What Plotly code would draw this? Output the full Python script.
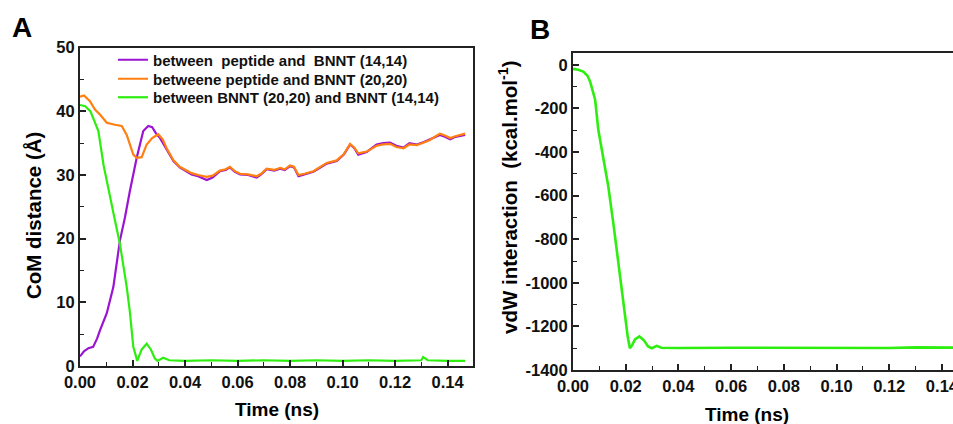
import plotly.graph_objects as go

# ---------------- data ----------------
# Panel A: CoM distance (Å) vs time (ns)
t_purple = [0, 0.0015, 0.0032, 0.005, 0.0065, 0.0076, 0.0102, 0.0127, 0.0152, 0.0171, 0.019, 0.0216,
            0.0241, 0.026, 0.0275, 0.029, 0.0305, 0.033, 0.0356, 0.038, 0.0406, 0.0425, 0.045, 0.0465,
            0.0483, 0.0505, 0.0533, 0.0555, 0.0571, 0.059, 0.061, 0.064, 0.0673, 0.069, 0.0711, 0.074,
            0.0762, 0.078, 0.08, 0.0815, 0.0832, 0.0855, 0.0889, 0.092, 0.094, 0.0978, 0.1005, 0.1029,
            0.1045, 0.106, 0.1092, 0.111, 0.113, 0.1155, 0.1181, 0.1205, 0.1232, 0.1255, 0.1283, 0.131,
            0.1333, 0.1355, 0.1371, 0.139, 0.141, 0.143, 0.1467]
v_purple = [1.5, 2.3, 2.8, 3.0, 4.3, 5.6, 8.3, 12.4, 19.7, 23.3, 27.5, 32.7,
            36.9, 37.7, 37.5, 36.5, 35.8, 34.0, 32.2, 31.2, 30.6, 30.1, 29.8, 29.5,
            29.2, 29.6, 30.6, 30.8, 31.2, 30.5, 30.1, 30.0, 29.6, 30.1, 30.9, 30.7,
            31.0, 30.8, 31.4, 31.2, 29.8, 30.1, 30.5, 31.3, 31.8, 32.2, 33.2, 34.8,
            34.2, 33.2, 33.6, 34.2, 34.8, 35.0, 35.1, 34.6, 34.3, 35.0, 34.8, 35.2,
            35.6, 36.0, 36.3, 36.0, 35.6, 36.0, 36.3]

t_orange = [0, 0.0015, 0.0038, 0.0057, 0.0076, 0.0102, 0.0133, 0.0159, 0.0178, 0.019, 0.0203, 0.0216,
            0.0235, 0.0254, 0.0275, 0.0298, 0.0315, 0.033, 0.0356, 0.038, 0.0406, 0.0425, 0.045, 0.0465,
            0.0483, 0.0505, 0.0533, 0.0555, 0.0571, 0.059, 0.061, 0.064, 0.0673, 0.069, 0.0711, 0.074,
            0.0762, 0.078, 0.08, 0.0815, 0.0832, 0.0855, 0.0889, 0.092, 0.094, 0.0978, 0.1005, 0.1029,
            0.1045, 0.106, 0.1092, 0.111, 0.113, 0.1155, 0.1181, 0.1205, 0.1232, 0.1255, 0.1283, 0.131,
            0.1333, 0.1355, 0.1371, 0.139, 0.141, 0.143, 0.1467]
v_orange = [42.3, 42.5, 41.6, 40.3, 39.5, 38.2, 37.9, 37.7, 36.3, 34.8, 33.2, 32.7,
            32.8, 34.8, 35.8, 36.4, 35.6, 34.2, 32.3, 31.3, 30.7, 30.3, 30.0, 29.9,
            29.7, 29.9, 30.7, 30.9, 31.3, 30.6, 30.2, 30.1, 29.8, 30.2, 31.0, 30.8,
            31.1, 30.9, 31.5, 31.3, 30.0, 30.2, 30.6, 31.4, 31.9, 32.3, 33.3, 34.9,
            34.3, 33.4, 33.7, 34.1, 34.6, 34.8, 34.9, 34.4, 34.2, 34.8, 34.7, 35.1,
            35.5, 36.1, 36.5, 36.2, 35.8, 36.1, 36.5]

t_green = [0, 0.002, 0.004, 0.0055, 0.007, 0.009, 0.0114, 0.0135, 0.0152, 0.0178, 0.019, 0.0203,
           0.0218, 0.0235, 0.0254, 0.027, 0.0285, 0.0295, 0.0317, 0.034, 0.04, 0.05, 0.06, 0.07,
           0.08, 0.09, 0.1, 0.11, 0.12, 0.13, 0.1307, 0.1325, 0.14, 0.1467]
v_green = [41.0, 40.8, 40.0, 38.5, 36.9, 31.5, 26.5, 22.5, 19.2, 12.4, 8.5, 3.0,
           0.8, 2.6, 3.5, 2.6, 1.2, 0.8, 1.3, 0.9, 0.8, 0.9, 0.8, 0.9,
           0.8, 0.9, 0.8, 0.9, 0.8, 0.9, 1.4, 0.9, 0.8, 0.8]

# Panel B: vdW interaction (kcal/mol) vs time (ns)
t_vdw = [0, 0.002, 0.0039, 0.0055, 0.0065, 0.0084, 0.0096, 0.0115, 0.0134, 0.0153, 0.0172, 0.0185,
         0.0197, 0.0208, 0.0216, 0.0225, 0.0235, 0.0252, 0.027, 0.0285, 0.0299, 0.0318, 0.0335,
         0.04, 0.06, 0.08, 0.1, 0.12, 0.13, 0.14, 0.15]
v_vdw = [-18, -22, -31, -50, -77, -160, -298, -436, -558, -726, -910, -1032,
         -1155, -1250, -1300, -1285, -1260, -1246, -1265, -1292, -1300, -1289, -1298,
         -1299, -1298, -1299, -1298, -1299, -1296, -1299, -1298]

names = ["between\u00a0 peptide and\u00a0 BNNT (14,14)",
         "betweene peptide and BNNT (20,20)",
         "between BNNT (20,20) and BNNT (14,14)"]

x_ticks = [0.00, 0.02, 0.04, 0.06, 0.08, 0.10, 0.12, 0.14]
x_ticklabels = ["0.00", "0.02", "0.04", "0.06", "0.08", "0.10", "0.12", "0.14"]
yA_ticks = [0, 10, 20, 30, 40, 50]
yB_ticks = [0, -200, -400, -600, -800, -1000, -1200, -1400]
yB_ticklabels = ["0", "-200", "-400", "-600", "-800", "-1000", "-1200", "-1400"]

# ---------------- figure ----------------
PURPLE = "#9B14D2"
ORANGE = "#FF7F10"
GREEN = "#2EEE10"
FONT = "Liberation Sans, Arial, sans-serif"
AX = "#222222"
W, H = 953, 424

fig = go.Figure()
fig.add_trace(go.Scatter(x=t_purple, y=v_purple, mode="lines", name=names[0], legend="legend",
                         line=dict(color=PURPLE, width=2.2), xaxis="x", yaxis="y"))
fig.add_trace(go.Scatter(x=t_orange, y=v_orange, mode="lines", name=names[1], legend="legend2",
                         line=dict(color=ORANGE, width=2.2), xaxis="x", yaxis="y"))
fig.add_trace(go.Scatter(x=t_green, y=v_green, mode="lines", name=names[2], legend="legend3",
                         line=dict(color=GREEN, width=2.2), xaxis="x", yaxis="y"))
fig.add_trace(go.Scatter(x=t_vdw, y=v_vdw, mode="lines", showlegend=False,
                         line=dict(color=GREEN, width=2.6), xaxis="x2", yaxis="y2"))

tickfont = dict(family=FONT, size=16.5, color="#111", weight="bold")
legfont = dict(family=FONT, size=15, color="#111", weight="bold")

common_x = dict(tickmode="array", tickvals=x_ticks, ticktext=x_ticklabels,
                ticks="inside", ticklen=6, tickwidth=1.6, tickcolor=AX,
                minor=dict(ticks="inside", ticklen=4, dtick=0.01, tick0=0, tickwidth=1.4, tickcolor=AX),
                showline=True, linecolor=AX, linewidth=2, showgrid=False, zeroline=False,
                automargin=False, ticklabeloverflow="allow", tickfont=tickfont)


def leg(ypx):
    return dict(x=113/W, y=1 - ypx/H, xanchor="left", yanchor="middle",
                bgcolor="rgba(0,0,0,0)", borderwidth=0, font=legfont)


def text(t, xp, yp, size, angle=0):
    return dict(text=t, x=xp/W, y=1 - yp/H, xref="paper", yref="paper", showarrow=False,
                textangle=angle, xanchor="center", yanchor="middle",
                font=dict(family=FONT, size=size, color="#000", weight="bold"))


fig.update_layout(
    width=W, height=H,
    margin=dict(l=0, r=0, t=0, b=0, autoexpand=False),
    paper_bgcolor="white", plot_bgcolor="white",
    showlegend=True,
    legend=leg(60), legend2=leg(79), legend3=leg(97.5),
    xaxis=dict(domain=[80/W, 473/W], range=[0, 0.1497], mirror=True, anchor="y", **common_x),
    yaxis=dict(domain=[58/H, 376.3/H], range=[0, 50], anchor="x",
               tickmode="array", tickvals=yA_ticks, ticktext=[str(v) for v in yA_ticks],
               ticks="inside", ticklen=6, tickwidth=1.6, tickcolor=AX,
               minor=dict(ticks="inside", ticklen=4, dtick=5, tick0=0, tickwidth=1.4, tickcolor=AX),
               showline=True, linecolor=AX, linewidth=2, mirror=True, showgrid=False, zeroline=False,
               automargin=False, tickfont=tickfont),
    xaxis2=dict(domain=[573/W, 1.0], range=[0, 0.1442], mirror=True, anchor="y2", **common_x),
    yaxis2=dict(domain=[54/H, 371.3/H], range=[-1400, 56], anchor="x2",
                tickmode="array", tickvals=yB_ticks, ticktext=yB_ticklabels,
                ticks="inside", ticklen=6, tickwidth=1.6, tickcolor=AX,
                minor=dict(ticks="inside", ticklen=4, dtick=100, tick0=0, tickwidth=1.4, tickcolor=AX),
                showline=True, linecolor=AX, linewidth=2, mirror=False, showgrid=False, zeroline=False,
                automargin=False, tickfont=tickfont),
    annotations=[
        text("A", 22, 28, 28),
        text("B", 540, 29, 28),
        text("Time (ns)", 276.5, 409, 19),
        text("Time (ns)", 747, 414, 19),
        text("CoM distance (Å)", 33, 216, 20.5, -90),
        text("vdW interaction\u00a0 (kcal.mol<sup>-1</sup>)", 508, 197, 20.5, -90),
    ],
)

fig.write_html("out.html", config={"displayModeBar": False},
               post_script="document.body.style.margin='0';document.body.style.overflow='hidden';")
